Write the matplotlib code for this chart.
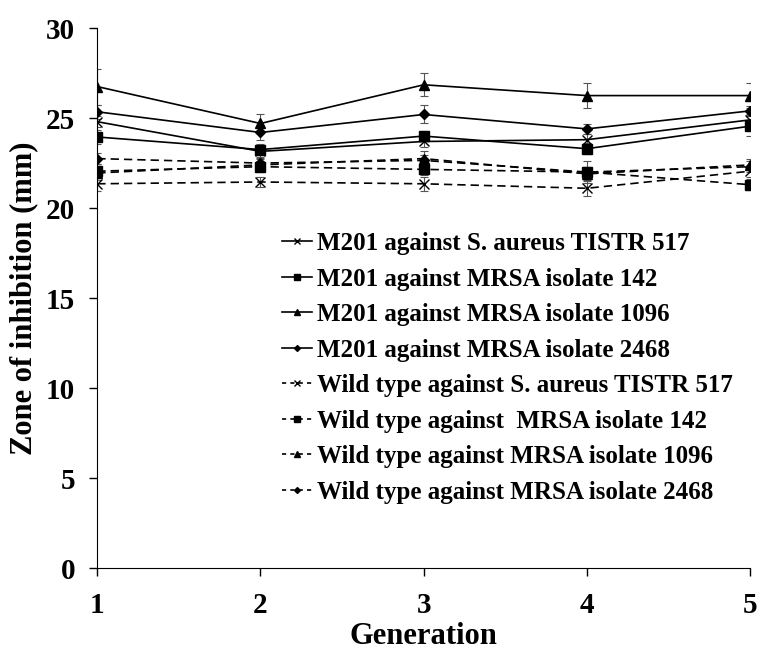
import numpy as np
import matplotlib
matplotlib.use('Agg')
import matplotlib.pyplot as plt
from matplotlib.lines import Line2D

plt.rcParams['font.family'] = ['Liberation Serif', 'DejaVu Serif']
plt.rcParams['font.weight'] = 'bold'

generation = [1, 2, 3, 4, 5]

labels = [
    'M201 against S. aureus TISTR 517',
    'M201 against MRSA isolate 142',
    'M201 against MRSA isolate 1096',
    'M201 against MRSA isolate 2468',
    'Wild type against S. aureus TISTR 517',
    'Wild type against  MRSA isolate 142',
    'Wild type against MRSA isolate 1096',
    'Wild type against MRSA isolate 2468',
]

# mean zone of inhibition (mm)
m201_sa517 = [24.8, 23.15, 23.7, 23.8, 24.9]
m201_142 = [23.95, 23.25, 24.0, 23.3, 24.55]
m201_1096 = [26.75, 24.7, 26.85, 26.25, 26.25]
m201_2468 = [25.35, 24.2, 25.2, 24.4, 25.4]
wt_sa517 = [21.35, 21.45, 21.35, 21.1, 22.05]
wt_142 = [22.05, 22.3, 22.15, 22.0, 21.3]
wt_1096 = [21.95, 22.4, 22.75, 21.9, 22.4]
wt_2468 = [22.75, 22.5, 22.65, 22.0, 22.3]

# standard deviations
m201_sa517_err = [0.3, 0.3, 0.3, 0.3, 0.3]
m201_142_err = [0.4, 0.3, 0.3, 0.3, 0.55]
m201_1096_err = [1.0, 0.5, 0.65, 0.7, 0.68]
m201_2468_err = [0.4, 0.4, 0.5, 0.28, 0.25]
wt_sa517_err = [0.4, 0.3, 0.4, 0.45, 0.3]
wt_142_err = [0.4, 0.3, 0.3, 0.6, 0.3]
wt_1096_err = [0.4, 0.3, 0.4, 0.4, 0.3]
wt_2468_err = [0.3, 0.3, 0.3, 0.3, 0.3]

series = [m201_sa517, m201_142, m201_1096, m201_2468, wt_sa517, wt_142, wt_1096, wt_2468]
errors = [m201_sa517_err, m201_142_err, m201_1096_err, m201_2468_err,
          wt_sa517_err, wt_142_err, wt_1096_err, wt_2468_err]
markers = ['x', 's', '^', 'D', 'x', 's', '^', 'D']
msizes = [7, 7, 7, 5, 7, 7, 7, 5]
styles = ['-', '-', '-', '-', '--', '--', '--', '--']

fig = plt.figure(figsize=(7.6, 6.53), dpi=100)
ax = fig.add_axes([0.128, 0.130, 0.859, 0.827])

handles = []
for y, e, m, ms, ls, lab in zip(series, errors, markers, msizes, styles, labels):
    dash = (5, 3) if ls == '--' else (None, None)
    ax.errorbar(generation, y, yerr=e, color='black', ecolor='#555555', elinewidth=0.8,
                capsize=3, capthick=0.8, marker=m, markersize=ms, linestyle=ls,
                linewidth=1.2, dashes=dash)
    h = Line2D([], [], color='black', marker=m, markersize=ms * 0.6, linestyle=ls,
               linewidth=1.2, label=lab)
    if ls == '--':
        h.set_dashes((2.5, 2.5))
    handles.append(h)

ax.set_xlim(1, 5)
ax.set_ylim(0, 30)
ax.set_xticks(generation)
ax.set_yticks([0, 5, 10, 15, 20, 25, 30])
ax.tick_params(direction='out', length=6, width=1, labelsize=21)
ax.tick_params(axis='x', pad=11)
ax.tick_params(axis='y', pad=10)
for sp in ['top', 'right']:
    ax.spines[sp].set_visible(False)
ax.set_xlabel('Generation', fontsize=22, fontweight='bold')
ax.set_ylabel('Zone of inhibition (mm)', fontsize=22, fontweight='bold')
ax.xaxis.set_label_coords(0.5, -0.141)
ax.xaxis.label.set_va('baseline')
ax.yaxis.set_label_coords(-0.09, 0.50)

ax.legend(handles=handles, loc='center left', bbox_to_anchor=(0.283, 0.371), frameon=False,
          fontsize=18, handlelength=1.2, handletextpad=0.2, labelspacing=0.5,
          borderpad=0, borderaxespad=0)

plt.savefig('out.png', dpi=100)
